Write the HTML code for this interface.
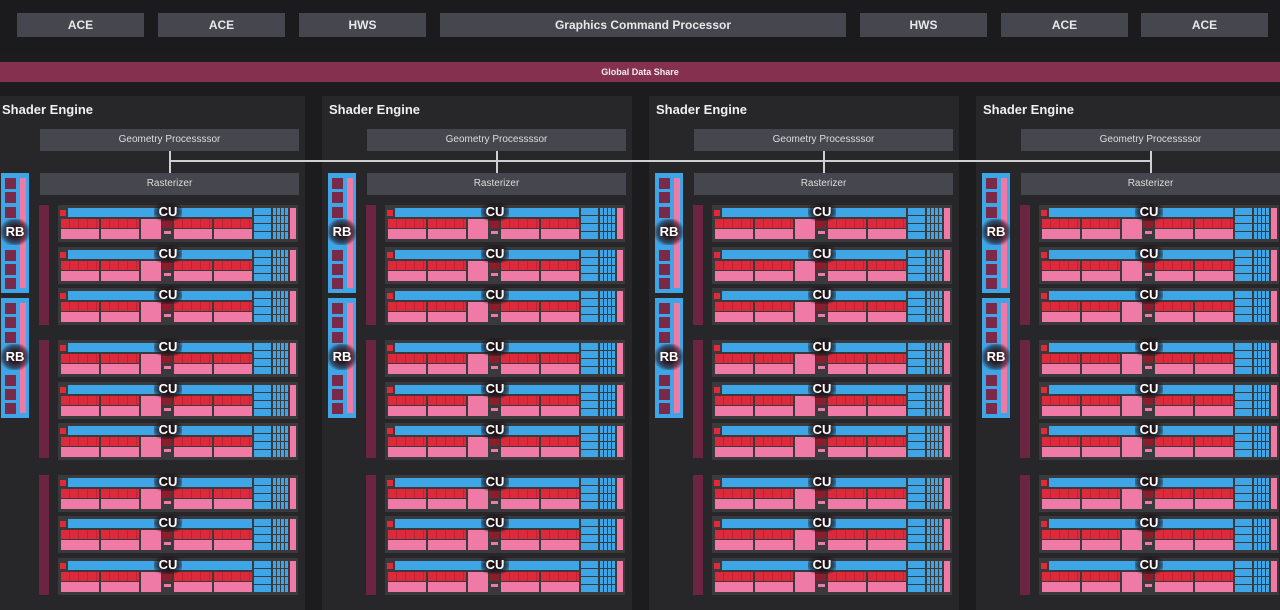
<!DOCTYPE html>
<html><head><meta charset="utf-8"><style>
body{margin:0;width:1280px;height:610px;background:#1c1c1e;overflow:hidden;font-family:"Liberation Sans",sans-serif;position:relative}
div{position:absolute;box-sizing:border-box}
.btn{background:#45464e;color:#e8e8ea;font-size:12px;font-weight:bold;text-align:center;line-height:24px;top:13px;height:24px}
</style></head><body>
<div style="left:0;top:0;width:1280px;height:52px;background:#1b1b1d"></div>
<div class="btn" style="left:17px;width:127px">ACE</div>
<div class="btn" style="left:158px;width:127px">ACE</div>
<div class="btn" style="left:299px;width:127px">HWS</div>
<div class="btn" style="left:440px;width:406px">Graphics Command Processor</div>
<div class="btn" style="left:860px;width:127px">HWS</div>
<div class="btn" style="left:1001px;width:127px">ACE</div>
<div class="btn" style="left:1141px;width:127px">ACE</div>
<div style="left:0;top:62px;width:1280px;height:20px;background:#86304f;color:#eee;font-size:9px;font-weight:bold;text-align:center;line-height:20px">Global Data Share</div>
<div id="root" style="left:0;top:0;width:1280px;height:610px"></div>
<script>
const engineOffsets=[0,327,654,981];
const root=document.getElementById('root');
function mk(parent,css,name,inter,text){
  const d=document.createElement('div');
  d.style.cssText=css;
  
  
  if(text)d.textContent=text;
  parent.appendChild(d);return d;
}
engineOffsets.forEach((ox,i)=>{
  const pl=i==0?0:ox-5;
  mk(root,'left:'+pl+'px;top:96px;width:'+(i==0?305:310)+'px;height:514px;background:#27272a','shader-engine-panel','false');
  mk(root,'left:'+(ox+2)+'px;top:102px;color:#f0f0f0;font-size:13px;font-weight:bold','shader-engine-title','false','Shader Engine');
  mk(root,'left:'+(ox+40)+'px;top:129px;width:259px;height:22px;background:#45464e;color:#ddd;font-size:10px;text-align:center;line-height:22px','geometry-processor','true','Geometry Processssor');
  mk(root,'left:'+(ox+40)+'px;top:173px;width:259px;height:22px;background:#45464e;color:#ddd;font-size:10px;text-align:center;line-height:22px','rasterizer','true','Rasterizer');
  mk(root,'left:'+(ox+169)+'px;top:151px;width:2px;height:22px;background:#cfcfcf','connector-line','false');
  [173,298].forEach(ry=>{
    const rb=mk(root,'left:'+(ox+1)+'px;top:'+ry+'px;width:28px;height:120px;background:#3ea6e6','render-backend','true');
    for(let k=0;k<8;k++){ if(k==3||k==4)continue;
      mk(rb,'left:4px;top:'+(5+k*14.3)+'px;width:11px;height:11px;background:#7a2a48','rb-cell','false');}
    mk(rb,'left:19px;top:5px;width:6px;height:110px;background:#f07aa6','rb-bar','false');
    mk(rb,'left:0;top:46px;width:28px;height:26px;background:radial-gradient(#2a1a20 30%,rgba(40,20,30,0.6) 60%,transparent 80%);color:#fff;font-size:13px;font-weight:bold;text-align:center;line-height:26px','rb-label','false','RB');
  });
  [[205,120],[340,118],[475,120]].forEach(g=>mk(root,'left:'+(ox+39)+'px;top:'+g[0]+'px;width:10px;height:'+g[1]+'px;background:#6b2540','cu-group-bar','false'));
  [205,247,288,340,382,423,475,516,558].forEach(y=>{
    const c=mk(root,'left:'+(ox+58)+'px;top:'+y+'px;width:240px;height:37px;background:#3a3a3c','compute-unit','true');
    mk(c,'left:2px;top:5px;width:6px;height:6px;background:#e02a3a','cu-scalar','false');
    mk(c,'left:10px;top:3px;width:184px;height:9px;background:#3ea6e6','cu-cache','false');
    [[3,38],[43,38],[116,38],[156,38]].forEach(s=>{
      mk(c,'left:'+s[0]+'px;top:14px;width:'+s[1]+'px;height:9px;background:repeating-linear-gradient(90deg,#dc2a3c 0 8px,#c02232 8px 9px)','simd','false');
      mk(c,'left:'+s[0]+'px;top:24px;width:'+s[1]+'px;height:10px;background:#f07aa6','vgpr','false');
    });
    mk(c,'left:83px;top:14px;width:20px;height:20px;background:#f07aa6','lds','false');
    mk(c,'left:104px;top:14px;width:10px;height:9px;background:#8a1e2c','sched','false');
    mk(c,'left:106px;top:26px;width:7px;height:3px;background:#f07aa6','sched-small','false');
    for(let r=0;r<4;r++){
      mk(c,'left:196px;top:'+(3+r*8)+'px;width:17px;height:7px;background:#3ea6e6','tex-unit','false');
      for(let q=0;q<4;q++) mk(c,'left:'+(215+q*4)+'px;top:'+(3+r*8)+'px;width:3px;height:7px;background:#3ea6e6','tex-cell','false');
    }
    mk(c,'left:232px;top:3px;width:6px;height:31px;background:#f07aa6','cu-bar','false');
    mk(c,'left:96px;top:-2px;width:28px;height:18px;background:radial-gradient(ellipse,#1e1418 35%,rgba(30,20,24,0.5) 65%,transparent 85%);color:#fff;font-size:13px;font-weight:bold;text-align:center;line-height:18px','cu-label','false','CU');
  });
});
mk(root,'left:169px;top:160px;width:983px;height:2px;background:#cfcfcf','geometry-bus-line','false');
</script>
</body></html>
